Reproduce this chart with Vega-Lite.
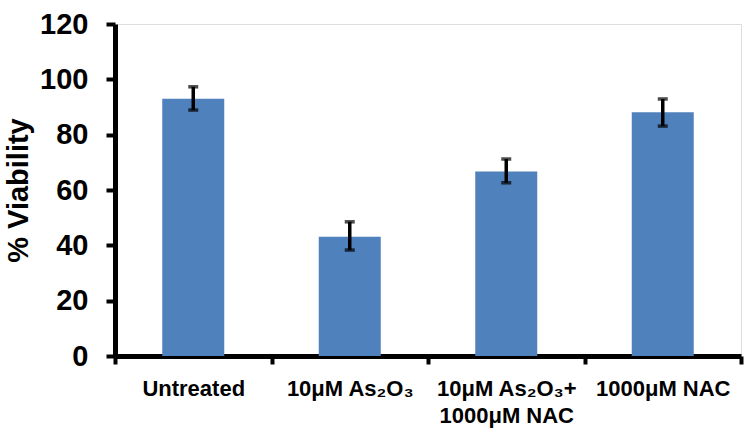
{
  "$schema": "https://vega.github.io/schema/vega-lite/v6.json",
  "autosize": "none",
  "width": 626,
  "height": 332,
  "padding": {"left": 115, "top": 24, "right": 9, "bottom": 83},
  "background": "white",
  "data": {
    "values": [
      {"group": "Untreated", "viability": 93.0, "low": 88.9, "high": 97.3},
      {"group": "10μM As₂O₃", "viability": 43.1, "low": 38.3, "high": 48.5},
      {"group": "10μM As₂O₃+ 1000μM NAC", "viability": 66.7, "low": 62.6, "high": 71.2},
      {"group": "1000μM NAC", "viability": 88.1, "low": 83.1, "high": 92.9}
    ]
  },
  "encoding": {
    "x": {
      "field": "group",
      "type": "nominal",
      "sort": null,
      "scale": {"paddingInner": 0, "paddingOuter": 0},
      "axis": {
        "title": null,
        "labelAngle": 0,
        "labelFont": "Liberation Sans, DejaVu Sans",
        "labelFontWeight": "bold",
        "labelFontSize": 22,
        "labelColor": "black",
        "labelPadding": 14,
        "labelLineHeight": 27,
        "labelExpr": "datum.value == '10μM As₂O₃+ 1000μM NAC' ? ['10μM As₂O₃+', '1000μM NAC'] : datum.value",
        "domainColor": "black",
        "domainWidth": 5,
        "tickBand": "extent",
        "tickColor": "black",
        "tickWidth": 4,
        "tickSize": 8
      }
    }
  },
  "layer": [
    {
      "mark": {"type": "bar", "size": 62, "color": "#4F81BD"},
      "encoding": {
        "y": {
          "field": "viability",
          "type": "quantitative",
          "scale": {"domain": [0, 120], "nice": false},
          "axis": {
            "title": "% Viability",
            "titleFont": "Liberation Sans, DejaVu Sans",
            "titleFontWeight": "bold",
            "titleFontSize": 29,
            "titleColor": "black",
            "titlePadding": 6,
            "values": [0, 20, 40, 60, 80, 100, 120],
            "grid": false,
            "labelFont": "Liberation Sans, DejaVu Sans",
            "labelFontWeight": "bold",
            "labelFontSize": 29,
            "labelColor": "black",
            "labelPadding": 18,
            "domainColor": "black",
            "domainWidth": 5,
            "tickColor": "black",
            "tickWidth": 4,
            "tickSize": 9
          }
        }
      }
    },
    {
      "mark": {"type": "rule", "color": "black", "strokeWidth": 3.5},
      "encoding": {
        "y": {"field": "low", "type": "quantitative"},
        "y2": {"field": "high"}
      }
    },
    {
      "mark": {"type": "tick", "color": "black", "thickness": 3.5, "size": 10},
      "encoding": {"y": {"field": "low", "type": "quantitative"}}
    },
    {
      "mark": {"type": "tick", "color": "black", "thickness": 3.5, "size": 10},
      "encoding": {"y": {"field": "high", "type": "quantitative"}}
    }
  ]
}
